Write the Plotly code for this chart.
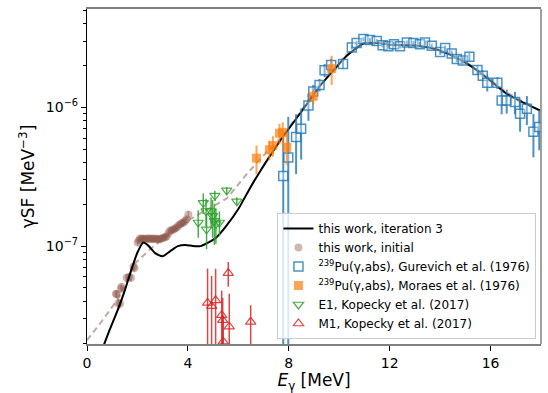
import plotly.graph_objects as go

# ---------------- data ----------------
# this work, iteration 3 (solid black curve)
it3_E = [0.60, 0.90, 1.24, 1.50, 1.77, 2.00, 2.23, 2.45, 2.70, 2.99, 3.30, 3.60, 3.90, 4.20,
         4.50, 4.80, 5.14, 5.50, 6.00, 6.40, 6.86, 7.30, 7.70, 8.30, 8.71, 9.20, 9.77, 10.30,
         10.96, 11.50, 12.00, 12.70, 13.30, 13.90, 14.50, 15.30, 16.00, 16.64, 17.30, 17.96]
it3_f = [1.8e-8, 2.5e-8, 3.55e-8, 4.8e-8, 6.85e-8, 9.0e-8, 1.06e-7, 1.0e-7, 8.9e-8, 8.45e-8,
         9.2e-8, 1.0e-7, 1.02e-7, 1.0e-7, 1.0e-7, 1.06e-7, 1.16e-7, 1.38e-7, 1.85e-7, 2.5e-7,
         3.45e-7, 4.6e-7, 5.9e-7, 8.3e-7, 1.05e-6, 1.4e-6, 1.84e-6, 2.35e-6, 2.88e-6, 2.9e-6,
         2.82e-6, 2.8e-6, 2.75e-6, 2.6e-6, 2.35e-6, 1.94e-6, 1.55e-6, 1.25e-6, 1.08e-6, 9.5e-7]

# dashed extrapolation of the initial strength
ext_E = [0.0, 0.6, 1.24, 1.90, 2.50, 3.20, 4.08, 4.80, 5.54, 6.33, 7.00, 7.70, 8.30, 8.71,
         9.20, 9.77, 10.30, 10.96, 11.50, 12.00, 12.70, 13.30, 13.90, 14.50, 15.30, 16.00,
         16.64, 17.30, 18.0]
ext_f = [2.1e-8, 2.9e-8, 4.2e-8, 7.5e-8, 9.5e-8, 1.2e-7, 1.56e-7, 1.85e-7, 2.2e-7, 3.3e-7,
         4.5e-7, 6.0e-7, 8.4e-7, 1.06e-6, 1.42e-6, 1.87e-6, 2.4e-6, 2.92e-6, 2.93e-6, 2.85e-6,
         2.82e-6, 2.77e-6, 2.62e-6, 2.38e-6, 1.97e-6, 1.58e-6, 1.28e-6, 1.1e-6, 9.3e-7]

# this work, initial
ini_E = [1.15, 1.18, 1.24, 1.31, 1.35, 1.37, 1.57, 1.66, 1.74, 1.84, 1.88, 2.01, 2.06, 2.10,
         2.17, 2.24, 2.30, 2.37, 2.44, 2.50, 2.57, 2.63, 2.70, 2.76, 2.83, 2.90, 2.96, 3.03,
         3.10, 3.16, 3.23, 3.29, 3.36, 3.42, 3.49, 3.56, 3.62, 3.69, 3.76, 3.82, 3.89, 3.95, 4.02]
ini_f = [4.54e-8, 4.5e-8, 3.86e-8, 3.86e-8, 4.93e-8, 5.1e-8, 5.91e-8, 6.0e-8, 5.91e-8, 7.1e-8,
         6.97e-8, 1.06e-7, 1.1e-7, 1.135e-7, 1.13e-7, 1.135e-7, 1.12e-7, 1.13e-7, 1.14e-7,
         1.12e-7, 1.13e-7, 1.135e-7, 1.12e-7, 1.135e-7, 1.12e-7, 1.12e-7, 1.14e-7, 1.15e-7,
         1.16e-7, 1.18e-7, 1.24e-7, 1.29e-7, 1.30e-7, 1.32e-7, 1.34e-7, 1.36e-7, 1.40e-7,
         1.44e-7, 1.46e-7, 1.48e-7, 1.52e-7, 1.56e-7, 1.69e-7]
ini_err = [3e-9, 3e-9, 3e-9, 3e-9, 3e-9, 3e-9, 4e-9, 4e-9, 4e-9, 5e-9, 5e-9, 6e-9, 6e-9, 6e-9,
           6e-9, 6e-9, 6e-9, 6e-9, 6e-9, 6e-9, 6e-9, 6e-9, 6e-9, 6e-9, 6e-9, 6e-9, 6e-9, 6e-9,
           6e-9, 6e-9, 7e-9, 7e-9, 7e-9, 7e-9, 7e-9, 8e-9, 8e-9, 8e-9, 8e-9, 9e-9, 9e-9, 9e-9, 1e-8]

# 239Pu(g,abs), Gurevich et al. (1976)
gur_E = [7.78, 7.98, 8.29, 8.49, 8.78, 8.97, 9.22, 9.42, 9.68, 10.15, 10.50, 10.69, 10.96,
         11.22, 11.49, 11.72, 11.95, 12.17, 12.41, 12.68, 12.94, 13.20, 13.40, 13.67, 14.00,
         14.20, 14.46, 14.66, 14.90, 15.16, 15.48, 15.69, 15.87, 16.27, 16.44, 16.64, 16.97,
         17.17, 17.44, 17.70, 17.93]
gur_f = [3.2e-7, 4.34e-7, 6.1e-7, 7.0e-7, 1.03e-6, 1.3e-6, 1.45e-6, 1.85e-6, 2.02e-6, 2.05e-6,
         2.7e-6, 2.9e-6, 3.1e-6, 3.05e-6, 3.0e-6, 2.8e-6, 2.75e-6, 2.85e-6, 2.75e-6, 2.93e-6,
         2.9e-6, 2.85e-6, 2.93e-6, 2.77e-6, 2.5e-6, 2.67e-6, 2.44e-6, 2.23e-6, 2.17e-6, 2.31e-6,
         1.86e-6, 1.69e-6, 1.5e-6, 1.5e-6, 1.12e-6, 1.12e-6, 1.09e-6, 8.97e-7, 9.75e-7, 6.66e-7,
         7.2e-7]
gur_err = [3.1e-7, 4.2e-7, 2.8e-7, 2.8e-7, 2.3e-7, 1.5e-7, 1.5e-7, 2.0e-7, 2.2e-7, 1.5e-7,
           1.0e-7, 1.0e-7, 1.0e-7, 1.0e-7, 1.0e-7, 1.0e-7, 1.0e-7, 1.0e-7, 1.0e-7, 1.0e-7,
           1.0e-7, 1.0e-7, 1.0e-7, 1.0e-7, 1.2e-7, 1.2e-7, 1.2e-7, 1.2e-7, 1.3e-7, 1.5e-7,
           1.5e-7, 1.5e-7, 2.0e-7, 1.5e-7, 2.3e-7, 2.2e-7, 2.0e-7, 2.3e-7, 2.3e-7, 2.3e-7, 2.3e-7]

# 239Pu(g,abs), Moraes et al. (1976)
mor_E = [6.72, 7.23, 7.37, 7.63, 7.76, 7.92, 8.97, 9.70]
mor_f = [4.3e-7, 4.95e-7, 5.3e-7, 6.5e-7, 6.6e-7, 5.15e-7, 1.2e-6, 1.9e-6]
mor_err = [1.0e-7, 0.8e-7, 0.9e-7, 1.1e-7, 1.2e-7, 1.3e-7, 1.5e-7, 4.5e-7]

# E1, Kopecky et al. (2017)
e1_E = [4.41, 4.61, 4.72, 4.74, 4.92, 4.98, 5.05, 5.07, 5.11, 5.25, 5.54, 5.94]
e1_f = [1.48e-7, 2.05e-7, 1.79e-7, 1.32e-7, 1.79e-7, 1.65e-7, 1.52e-7, 2.31e-7, 1.44e-7,
        1.48e-7, 2.52e-7, 2.1e-7]
e1_err = [3.3e-8, 3.5e-8, 4e-8, 3.7e-8, 4.5e-8, 5e-8, 5e-8, 2e-8, 4e-8, 3e-8, 1.5e-8, 1.5e-8]

# M1, Kopecky et al. (2017)
m1_E = [4.78, 4.94, 5.10, 5.34, 5.38, 5.40, 5.60, 5.64, 6.49]
m1_f = [3.9e-8, 3.7e-8, 4.07e-8, 3.18e-8, 2.93e-8, 2.05e-8, 6.4e-8, 2.63e-8, 2.85e-8]
m1_err = [3.0e-8, 2.4e-8, 2.8e-8, 1.6e-8, 1.3e-8, 1.1e-8, 1.3e-8, 1.9e-8, 0.9e-8]

yticks = [1e-7, 1e-6]
yticktext = ["10<sup>−7</sup>", "10<sup>−6</sup>"]
xticks = [0, 4, 8, 12, 16]

# ---------------- figure ----------------
FONT = "DejaVu Sans"
fig = go.Figure()

fig.add_trace(go.Scatter(x=ext_E, y=ext_f, mode="lines", showlegend=False,
                         line=dict(color="rgba(188,150,145,0.85)", width=2, dash="6px,4px")))

fig.add_trace(go.Scatter(
    x=ini_E, y=ini_f, mode="markers", name="this work, initial", legendrank=2,
    marker=dict(symbol="circle", size=8, color="rgba(140,86,75,0.42)", line=dict(width=0)),
    error_y=dict(type="data", array=ini_err, color="rgba(140,86,75,0.45)", thickness=1.5, width=0)))

fig.add_trace(go.Scatter(x=it3_E, y=it3_f, mode="lines", name="this work, iteration 3",
                         legendrank=1, line=dict(color="black", width=2, shape="spline",
                                                  smoothing=0.55)))

fig.add_trace(go.Scatter(
    x=gur_E, y=gur_f, mode="markers", name="<sup>239</sup>Pu(γ,abs), Gurevich et al. (1976)",
    legendrank=3,
    marker=dict(symbol="square", size=9, color="rgba(255,255,255,0.35)",
                line=dict(color="rgba(31,119,180,0.8)", width=1.5)),
    error_y=dict(type="data", array=gur_err, color="rgba(31,119,180,0.8)", thickness=2, width=0)))

fig.add_trace(go.Scatter(
    x=mor_E, y=mor_f, mode="markers", name="<sup>239</sup>Pu(γ,abs), Moraes et al. (1976)",
    legendrank=4,
    marker=dict(symbol="square", size=9, color="rgba(255,127,14,0.7)", line=dict(width=0)),
    error_y=dict(type="data", array=mor_err, color="rgba(255,127,14,0.7)", thickness=2, width=0)))

fig.add_trace(go.Scatter(
    x=e1_E, y=e1_f, mode="markers", name="E1, Kopecky et al. (2017)", legendrank=5,
    marker=dict(symbol="triangle-down-open", size=9, color="rgba(44,160,44,0.85)",
                line=dict(width=1.2)),
    error_y=dict(type="data", array=e1_err, color="rgba(44,160,44,0.85)", thickness=1.5, width=0)))

fig.add_trace(go.Scatter(
    x=m1_E, y=m1_f, mode="markers", name="M1, Kopecky et al. (2017)", legendrank=6,
    marker=dict(symbol="triangle-up-open", size=9, color="rgba(214,39,40,0.85)",
                line=dict(width=1.2)),
    error_y=dict(type="data", array=m1_err, color="rgba(214,39,40,0.85)", thickness=1.5, width=0)))

minor_vals = [m * 10.0 ** e for e in (-8, -7, -6) for m in range(2, 10)]

fig.update_layout(
    width=548, height=393,
    margin=dict(l=87, r=7, t=8, b=47),
    paper_bgcolor="white", plot_bgcolor="white",
    font=dict(family=FONT, size=14, color="black"),
    showlegend=True,
    legend=dict(x=0.99, y=0.015, xanchor="right", yanchor="bottom",
                bgcolor="rgba(255,255,255,0.8)", bordercolor="#cccccc", borderwidth=1,
                font=dict(family=FONT, size=12), tracegroupgap=0, itemwidth=30),
    xaxis=dict(range=[0, 18], tickvals=xticks, ticks="outside", ticklen=5, tickwidth=1,
               tickcolor="black", showgrid=False, zeroline=False,
               showline=True, linecolor="#808080", linewidth=1.5, mirror=True,
               tickfont=dict(size=14),
               title=dict(text="<i>E</i><sub>γ</sub> [MeV]", font=dict(size=17), standoff=4)),
    yaxis=dict(type="log", range=[-7.705, -5.292], tickvals=yticks, ticktext=yticktext,
               ticks="outside", ticklen=5, tickwidth=1, tickcolor="black",
               minor=dict(tickvals=minor_vals, ticks="outside", ticklen=3, tickwidth=0.8,
                          tickcolor="black", showgrid=False),
               showgrid=False, zeroline=False, showline=True, linecolor="black", linewidth=1.2,
               tickfont=dict(size=14),
               title=dict(text="γSF [MeV<sup>−3</sup>]", font=dict(size=17), standoff=6)),
    shapes=[dict(type="line", xref="paper", yref="paper", x0=1, x1=1, y0=0, y1=1,
                 line=dict(color="#808080", width=1.5))],
)

fig.write_html("out.html")
